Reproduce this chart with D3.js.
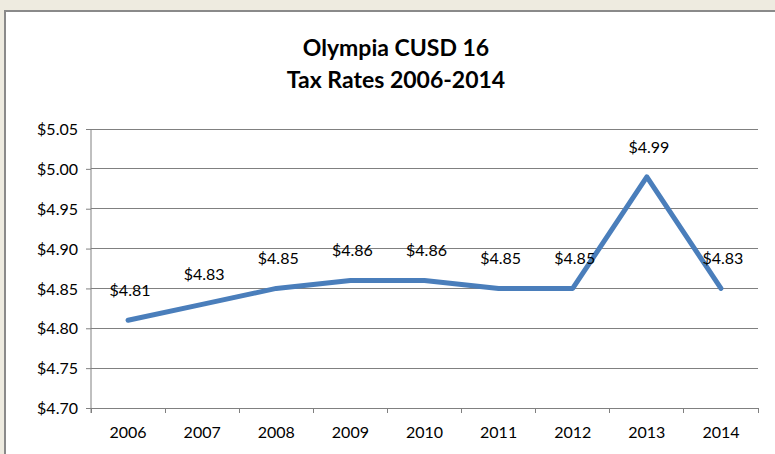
<!DOCTYPE html>
<html><head><meta charset="utf-8">
<script src="https://cdn.jsdelivr.net/npm/d3@7"></script>
<style>
html,body{margin:0;padding:0;background:#EEEBE0;overflow:hidden;}
text{font-family:Lato,"Open Sans",sans-serif;fill:#000;}
</style></head><body>
<svg id="chart" width="775" height="454"></svg>
<script>
const years = ["2006","2007","2008","2009","2010","2011","2012","2013","2014"];
const rates = [4.81, 4.83, 4.85, 4.86, 4.86, 4.85, 4.85, 4.99, 4.85];
const rateLabels = ["$4.81","$4.83","$4.85","$4.86","$4.86","$4.85","$4.85","$4.99","$4.83"];
const yTicks = [4.70, 4.75, 4.80, 4.85, 4.90, 4.95, 5.00, 5.05];
const titleLines = ["Olympia CUSD 16", "Tax Rates 2006-2014"];

const svg = d3.select("#chart");
svg.append("rect").attr("x",0).attr("y",0).attr("width",775).attr("height",454).attr("fill","#EEEBE0");
svg.append("rect").attr("x",5).attr("y",11).attr("width",800).attr("height",500)
  .attr("fill","#fff").attr("stroke","#8a8a8a").attr("stroke-width",2);

const L = 91, R = 758, T = 129, B = 408;
const x = d3.scaleBand().domain(years).range([L, R]).paddingInner(0).paddingOuter(0);
const y = d3.scaleLinear().domain([4.70, 5.05]).range([B, T]);

// title
svg.append("g").selectAll("text").data(titleLines).join("text")
  .attr("x", 396).attr("y", (d,i) => 56 + i*32)
  .attr("text-anchor","middle").attr("font-weight","bold").attr("font-size","23px")
  .text(d => d);

// gridlines
svg.append("g").selectAll("line").data(yTicks).join("line")
  .attr("x1", L).attr("x2", R).attr("y1", d => y(d)).attr("y2", d => y(d))
  .attr("stroke","#808080").attr("stroke-width",1).attr("shape-rendering","crispEdges");

// y axis
const yAxis = d3.axisLeft(y).tickValues(yTicks).tickSize(5).tickPadding(8)
  .tickFormat(d => "$" + d3.format(".2f")(d));
const gy = svg.append("g").attr("transform", `translate(${L},0)`).call(yAxis);
gy.select(".domain").attr("stroke","#808080").attr("d", `M-0,${T}V${B+5}`);
gy.selectAll(".tick line").attr("stroke","#808080");
gy.selectAll(".tick text").attr("font-size","16px").attr("font-family","Lato").attr("fill","#000").attr("dy","0.35em");

// x axis
const xAxis = d3.axisBottom(x).tickSize(0).tickPadding(19);
const gx = svg.append("g").attr("transform", `translate(0,${B})`).call(xAxis);
gx.select(".domain").attr("stroke","#808080");
gx.selectAll(".tick text").attr("font-size","16px").attr("font-family","Lato").attr("fill","#000");
// tick marks at category boundaries
const bounds = years.map(d => x(d)).concat([x(years[years.length-1]) + x.bandwidth()]);
gx.append("g").selectAll("line").data(bounds).join("line")
  .attr("x1", d => d).attr("x2", d => d).attr("y1", 0).attr("y2", 5)
  .attr("stroke","#808080").attr("shape-rendering","crispEdges");

// line
const cx = d => x(d) + x.bandwidth()/2;
const line = d3.line().x((d,i) => cx(years[i])).y(d => y(d));
svg.append("path").datum(rates).attr("d", line)
  .attr("fill","none").attr("stroke","#4A7EBB").attr("stroke-width",5)
  .attr("stroke-linejoin","round").attr("stroke-linecap","round");

// labels
svg.append("g").selectAll("text").data(rates).join("text")
  .attr("x", (d,i) => cx(years[i]) + 2)
  .attr("y", d => y(d) - 24)
  .attr("text-anchor","middle").attr("font-size","16px")
  .text((d,i) => rateLabels[i]);
</script>
</body></html>
